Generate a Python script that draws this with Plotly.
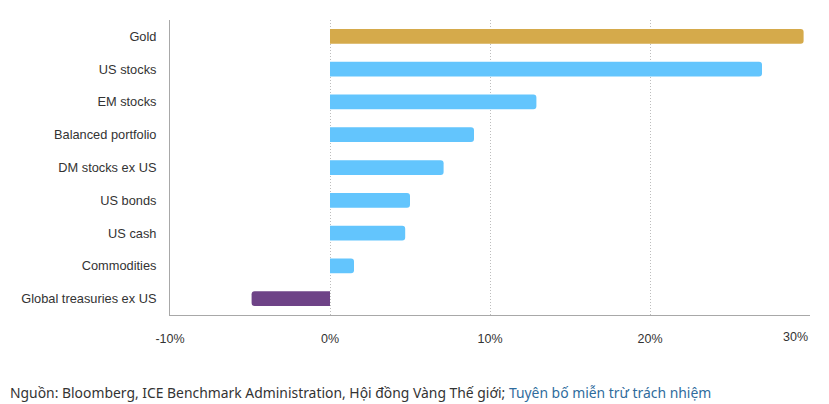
import plotly.graph_objects as go

categories = ["Gold", "US stocks", "EM stocks", "Balanced portfolio", "DM stocks ex US",
              "US bonds", "US cash", "Commodities", "Global treasuries ex US"]
values = [29.6, 27.0, 12.9, 9.0, 7.1, 5.0, 4.7, 1.5, -4.9]
bar_colors = ["#D5AA4B", "#63C5FD", "#63C5FD", "#63C5FD", "#63C5FD",
              "#63C5FD", "#63C5FD", "#63C5FD", "#6E4387"]
tick_vals = [-10, 0, 10, 20, 30]
tick_text = ["-10%", "0%", "10%", "20%", "30%"]
source_text = "Nguồn: Bloomberg, ICE Benchmark Administration, Hội đồng Vàng Thế giới; "
link_text = "Tuyên bố miễn trừ trách nhiệm"

# page body has an 8px margin, so the figure is slightly smaller and shifted
fig = go.Figure(go.Bar(
    x=values, y=categories, orientation="h",
    marker=dict(color=bar_colors, line=dict(width=0)),
    width=0.45, hoverinfo="x+y",
))

# last tick label is right-justified to stay inside the chart (as in the reference)
shown_text = tick_text[:-1] + [""]

fig.update_layout(
    width=821, height=396,
    margin=dict(l=162, r=19, t=12, b=89),
    paper_bgcolor="white", plot_bgcolor="white",
    showlegend=False,
    barcornerradius=3,
    font=dict(family="Liberation Sans, Arial, sans-serif", size=12, color="#333333"),
    xaxis=dict(
        range=[-10, 30], tickvals=tick_vals, ticktext=shown_text,
        showgrid=True, gridcolor="#bdbdbd", griddash="1px,2px", gridwidth=1,
        zeroline=False, showline=True, linecolor="#a8a8a8", linewidth=1,
        ticks="outside", ticklen=12, tickcolor="rgba(0,0,0,0)",
        tickfont=dict(size=12.5, color="#333333"), fixedrange=True,
        automargin=False,
    ),
    yaxis=dict(
        categoryorder="array", categoryarray=categories, autorange="reversed",
        range=[8.5, -0.5],
        showgrid=False, zeroline=False, showline=True, linecolor="#a8a8a8", linewidth=1,
        ticks="outside", ticklen=10, tickcolor="rgba(0,0,0,0)",
        tickfont=dict(size=12.8, color="#333333"), fixedrange=True,
        automargin=False,
    ),
    annotations=[
        dict(
            xref="paper", yref="paper", x=-162/640, y=-77/295,
            xanchor="left", yanchor="middle", showarrow=False, align="left",
            text=source_text + "<span style='color:#2f6c9d'>" + link_text + "</span>",
            font=dict(family="Noto Sans, Open Sans, sans-serif", size=13.9, color="#333333"),
        ),
        dict(
            xref="x", yref="paper", x=tick_vals[-1], y=-22/295,
            xanchor="right", yanchor="middle", showarrow=False,
            text=tick_text[-1], font=dict(size=12.5, color="#333333"),
        ),
    ],
)

fig.write_html("out.html")
